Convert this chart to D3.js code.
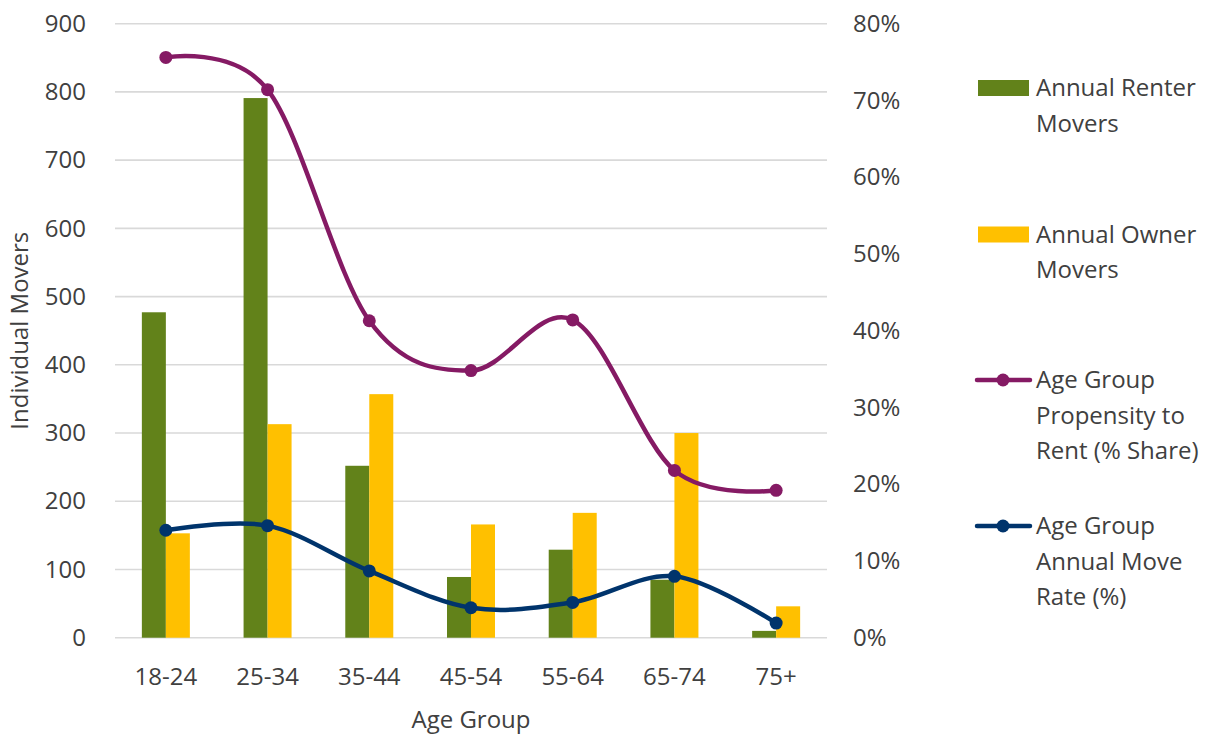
<!DOCTYPE html>
<html>
<head>
<meta charset="utf-8">
<script src="https://cdn.jsdelivr.net/npm/d3@7"></script>
<style>
  html, body { margin: 0; padding: 0; background: #fff; }
  svg { display: block; }
  text { font-family: "Open Sans", "Noto Sans", sans-serif; fill: #404040; }
</style>
</head>
<body>
<svg id="chart" width="1215" height="738"></svg>
<script>
// Movers by age group
const ageGroups = ["18-24", "25-34", "35-44", "45-54", "55-64", "65-74", "75+"];
const renterMovers = [477, 791, 252, 89, 129, 85, 10];
const ownerMovers = [153, 313, 357, 166, 183, 300, 46];
const propensityToRent = [0.756, 0.714, 0.413, 0.348, 0.414, 0.218, 0.192];
const annualMoveRate = [0.140, 0.146, 0.087, 0.039, 0.046, 0.080, 0.019];

const leftTicks = [0, 100, 200, 300, 400, 500, 600, 700, 800, 900];
const rightTicks = [0, 0.1, 0.2, 0.3, 0.4, 0.5, 0.6, 0.7, 0.8];

const legendItems = [
  { type: "bar", color: "#62821A", lines: ["Annual Renter", "Movers"] },
  { type: "bar", color: "#FFC000", lines: ["Annual Owner", "Movers"] },
  { type: "line", color: "#851A64", lines: ["Age Group", "Propensity to", "Rent (% Share)"] },
  { type: "line", color: "#00346C", lines: ["Age Group", "Annual Move", "Rate (%)"] }
];

const svg = d3.select("#chart");
const plot = { left: 115, right: 827, top: 23.7, bottom: 637.7 };
const fontSize = 24;

const x = d3.scaleBand().domain(ageGroups).range([plot.left, plot.right]).paddingInner(0).paddingOuter(0);
const barW = 24;
const outer = (x.bandwidth() / barW - 2) / 2;
const xSub = d3.scaleBand().domain(["renter", "owner"]).range([0, x.bandwidth()]).paddingInner(0).paddingOuter(outer);

const yLeft = d3.scaleLinear().domain([0, 900]).range([plot.bottom, plot.top]);
const yRight = d3.scaleLinear().domain([0, 0.8]).range([plot.bottom, plot.top]);

// gridlines
svg.append("g")
  .selectAll("line")
  .data(leftTicks)
  .join("line")
  .attr("x1", plot.left).attr("x2", plot.right)
  .attr("y1", d => yLeft(d)).attr("y2", d => yLeft(d))
  .attr("stroke", "#d9d9d9").attr("stroke-width", 1.6);

// left axis
const leftAxis = d3.axisLeft(yLeft).tickValues(leftTicks).tickSize(0).tickPadding(29);
const gL = svg.append("g").attr("transform", `translate(${plot.left},0)`).call(leftAxis);
gL.select(".domain").remove();
gL.selectAll("text").style("font-size", fontSize + "px").attr("fill", "#404040").attr("font-family", null);

// right axis
const rightAxis = d3.axisRight(yRight).tickValues(rightTicks).tickSize(0).tickPadding(26)
  .tickFormat(d3.format(".0%"));
const gR = svg.append("g").attr("transform", `translate(${plot.right},0)`).call(rightAxis);
gR.select(".domain").remove();
gR.selectAll("text").style("font-size", fontSize + "px").attr("fill", "#404040").attr("font-family", null);

// bottom axis labels
const bottomAxis = d3.axisBottom(x).tickSize(0).tickPadding(30);
const gB = svg.append("g").attr("transform", `translate(0,${plot.bottom})`).call(bottomAxis);
gB.select(".domain").remove();
gB.selectAll("text").style("font-size", fontSize + "px").attr("fill", "#404040").attr("font-family", null);

// axis titles
svg.append("text")
  .attr("x", 471).attr("y", 728)
  .attr("text-anchor", "middle").style("font-size", fontSize + "px")
  .text("Age Group");
svg.append("text")
  .attr("transform", `translate(28,${(plot.top + plot.bottom) / 2}) rotate(-90)`)
  .attr("text-anchor", "middle").style("font-size", fontSize + "px")
  .text("Individual Movers");

// bars
const groups = svg.append("g").selectAll("g")
  .data(ageGroups)
  .join("g")
  .attr("transform", d => `translate(${x(d)},0)`);
groups.append("rect")
  .attr("x", xSub("renter")).attr("width", xSub.bandwidth())
  .attr("y", (d, i) => yLeft(renterMovers[i]))
  .attr("height", (d, i) => yLeft(0) - yLeft(renterMovers[i]))
  .attr("fill", legendItems[0].color);
groups.append("rect")
  .attr("x", xSub("owner")).attr("width", xSub.bandwidth())
  .attr("y", (d, i) => yLeft(ownerMovers[i]))
  .attr("height", (d, i) => yLeft(0) - yLeft(ownerMovers[i]))
  .attr("fill", legendItems[1].color);

// smoothed lines with markers
const cx = d => x(d) + x.bandwidth() / 2;
function drawLine(values, color) {
  const pts = ageGroups.map((g, i) => [cx(g), yRight(values[i])]);
  svg.append("path")
    .datum(pts)
    .attr("d", d3.line().curve(d3.curveCardinal.tension(0)))
    .attr("fill", "none").attr("stroke", color)
    .attr("stroke-width", 4.5).attr("stroke-linecap", "round");
  svg.append("g").selectAll("circle")
    .data(pts).join("circle")
    .attr("cx", d => d[0]).attr("cy", d => d[1]).attr("r", 6.5)
    .attr("fill", color);
}
drawLine(propensityToRent, legendItems[2].color);
drawLine(annualMoveRate, legendItems[3].color);

// legend
const legendTop = [88, 234.5, 380, 526];
const lg = svg.append("g");
legendItems.forEach((it, i) => {
  const yc = legendTop[i];
  if (it.type === "bar") {
    lg.append("rect").attr("x", 978).attr("y", yc - 8).attr("width", 51).attr("height", 16).attr("fill", it.color);
  } else {
    lg.append("line").attr("x1", 977).attr("x2", 1030).attr("y1", yc).attr("y2", yc)
      .attr("stroke", it.color).attr("stroke-width", 4.5).attr("stroke-linecap", "round");
    lg.append("circle").attr("cx", 1003).attr("cy", yc).attr("r", 6.5).attr("fill", it.color);
  }
  it.lines.forEach((t, j) => {
    lg.append("text")
      .attr("x", 1036).attr("y", yc + j * 35.5)
      .attr("dy", "0.35em")
      .style("font-size", fontSize + "px")
      .text(t);
  });
});
</script>
</body>
</html>
